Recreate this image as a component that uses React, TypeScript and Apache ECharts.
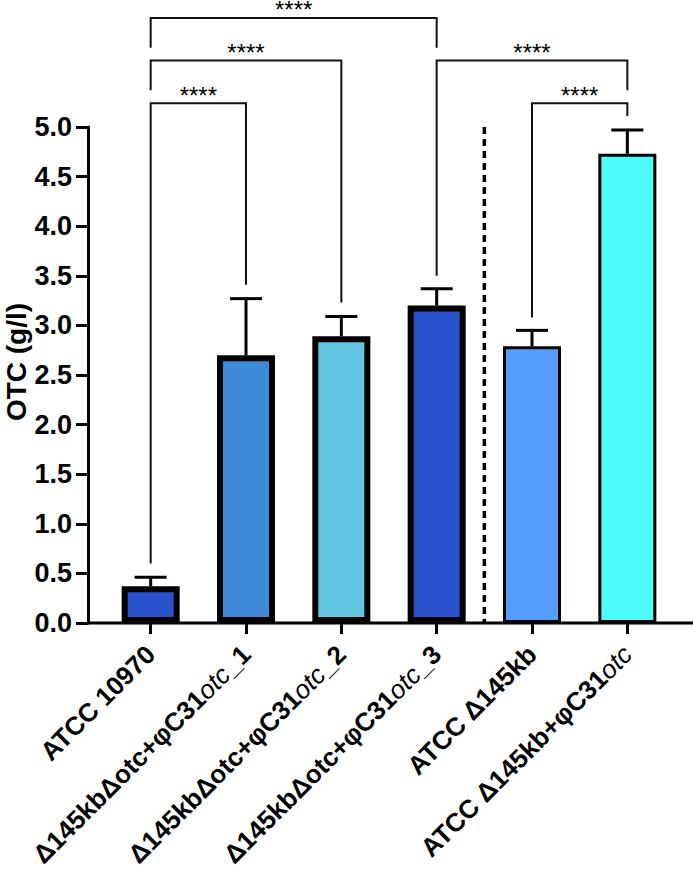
import React, { useEffect, useRef } from "react";
import * as echarts from "echarts";

const categories = [
  "ATCC 10970",
  "Δ145kbΔotc+φC31otc_1",
  "Δ145kbΔotc+φC31otc_2",
  "Δ145kbΔotc+φC31otc_3",
  "ATCC Δ145kb",
  "ATCC Δ145kb+φC31otc",
];
const means = [0.37, 2.7, 2.89, 3.2, 2.79, 4.73];
const errorTops = [0.46, 3.27, 3.09, 3.37, 2.95, 4.97];
const barColors = ["#2A52CC", "#3F89DB", "#63C6E0", "#2A52CC", "#559EFF", "#4DFDFC"];
const yTicks = [0, 0.5, 1, 1.5, 2, 2.5, 3, 3.5, 4, 4.5, 5];
const yTitle = "OTC (g/l)";
// comparisons: from index, to index, bracket level, left leg end, right leg end
const bracketFrom = [0, 0, 0, 3, 4];
const bracketTo = [1, 2, 3, 5, 5];
const bracketLevel = [5.24, 5.67, 6.1, 5.67, 5.24];
const bracketLeftEnd = [0.6, 5.37, 5.8, 3.5, 3.08];
const bracketRightEnd = [3.41, 3.23, 5.8, 5.37, 5.11];
const bracketLabel = ["****", "****", "****", "****", "****"];

const FONT = "'Liberation Sans', Arial, sans-serif";

export default function App() {
  const ref = useRef<HTMLDivElement>(null);
  useEffect(() => {
    document.body.style.margin = "0";
    if (!ref.current) return;
    const chart = echarts.init(ref.current, undefined, { renderer: "svg" });
    const borderWidths = [6, 6, 6, 6, 3, 3];
    chart.setOption({
      animation: false,
      grid: { left: 103, right: 18, top: 127, bottom: 250, containLabel: false },
      xAxis: {
        type: "category",
        data: categories,
        axisLine: { show: false },
        axisTick: { show: true, length: 11, alignWithLabel: true, lineStyle: { color: "#000", width: 3 } },
        axisLabel: {
          interval: 0,
          rotate: 45,
          margin: 27,
          color: "#000",
          fontFamily: FONT,
          fontSize: 26,
          fontWeight: "bold",
          formatter: (v: string) => {
            const k = v.indexOf("φC31otc");
            if (k < 0) return `{b|${v}}`;
            const pre = v.slice(0, k + 4);
            const post = v.slice(k + 7);
            return `{b|${pre}}{i|otc}` + (post ? `{b|${post}}` : "");
          },
          rich: {
            b: { fontFamily: FONT, fontSize: 26, fontWeight: "bold", color: "#000" },
            i: { fontFamily: FONT, fontSize: 26, fontWeight: "normal", fontStyle: "italic", color: "#000" },
          },
        },
      },
      yAxis: {
        type: "value",
        min: 0,
        max: 5,
        interval: 0.5,
        offset: 15,
        axisLine: { show: true, lineStyle: { color: "#000", width: 3 } },
        axisTick: { show: true, length: 12, lineStyle: { color: "#000", width: 3 } },
        splitLine: { show: false },
        axisLabel: {
          margin: 16,
          color: "#000",
          fontFamily: FONT,
          fontSize: 27,
          fontWeight: "bold",
          formatter: (v: number) => (yTicks.includes(v) ? v.toFixed(1) : ""),
        },
      },
      graphic: [
        { type: "line", z: 1, shape: { x1: 87, y1: 623, x2: 693, y2: 623 }, style: { stroke: "#000", lineWidth: 3 } },
        {
          type: "text",
          x: 16,
          y: 362,
          rotation: Math.PI / 2,
          style: {
            text: yTitle,
            fontFamily: FONT,
            fontSize: 28,
            fontWeight: "bold",
            fill: "#000",
            align: "center",
            verticalAlign: "middle",
          },
        },
      ],
      series: [
        {
          type: "bar",
          barWidth: 58,
          z: 3,
          data: means.map((m, i) => ({
            value: m,
            itemStyle: { color: barColors[i], borderColor: "#000", borderWidth: borderWidths[i] },
          })),
        },
        {
          type: "custom",
          z: 2,
          encode: { x: 0, y: 2 },
          data: means.map((m, i) => [i, m, errorTops[i]]),
          renderItem: (params: any, api: any) => {
            const x = api.value(0);
            const p0 = api.coord([x, api.value(1)]);
            const p1 = api.coord([x, api.value(2)]);
            return {
              type: "group",
              children: [
                { type: "line", shape: { x1: p0[0], y1: p0[1], x2: p1[0], y2: p1[1] }, style: { stroke: "#000", lineWidth: 3 } },
                { type: "line", shape: { x1: p1[0] - 16, y1: p1[1], x2: p1[0] + 16, y2: p1[1] }, style: { stroke: "#000", lineWidth: 3 } },
              ],
            };
          },
        },
        {
          type: "custom",
          z: 4,
          clip: false,
          encode: { x: 0, y: 2 },
          data: bracketFrom.map((f, i) => [f, bracketTo[i], bracketLevel[i], bracketLeftEnd[i], bracketRightEnd[i]]),
          renderItem: (params: any, api: any) => {
            const i0 = api.value(0);
            const i1 = api.value(1);
            const lvl = api.value(2);
            const a = api.coord([i0, lvl]);
            const b = api.coord([i1, lvl]);
            const la = api.coord([i0, api.value(3)]);
            const rb = api.coord([i1, api.value(4)]);
            return {
              type: "group",
              children: [
                {
                  type: "polyline",
                  shape: { points: [[a[0], la[1]], [a[0], a[1]], [b[0], b[1]], [b[0], rb[1]]] },
                  style: { stroke: "#111", lineWidth: 2, fill: null },
                },
                {
                  type: "text",
                  x: (a[0] + b[0]) / 2,
                  y: a[1] + 1,
                  style: {
                    text: bracketLabel[params.dataIndex],
                    fontFamily: FONT,
                    fontSize: 24,
                    lineHeight: 18,
                    fill: "#000",
                    align: "center",
                    verticalAlign: "bottom",
                  },
                },
              ],
            };
          },
        },
        {
          type: "custom",
          z: 4,
          encode: { x: 0, y: 2 },
          data: [[3, 4, 5, 0]],
          renderItem: (params: any, api: any) => {
            const a = api.coord([api.value(0), api.value(2)]);
            const b = api.coord([api.value(1), api.value(3)]);
            const xm = (a[0] + b[0]) / 2;
            return {
              type: "line",
              shape: { x1: xm, y1: a[1], x2: xm, y2: b[1] },
              style: { stroke: "#000", lineWidth: 3.5, lineDash: [7, 5] },
            };
          },
        },
      ],
    });
    return () => chart.dispose();
  }, []);
  return <div ref={ref} style={{ width: 693, height: 873 }} />;
}
